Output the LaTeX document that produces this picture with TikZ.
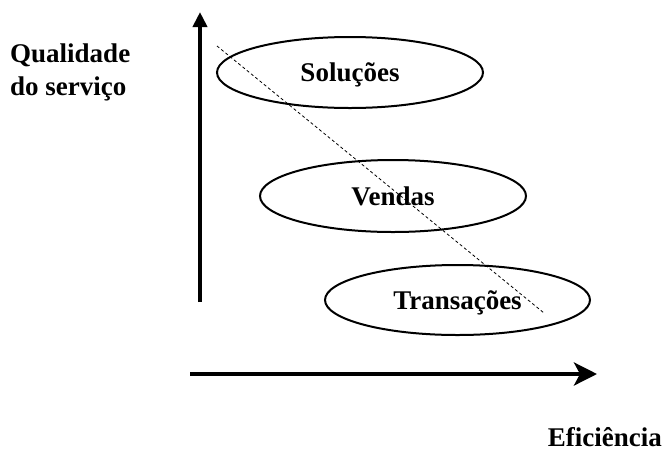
\documentclass[tikz,border=0pt]{standalone}
\usepackage{fontspec}
\setmainfont{Liberation Serif}
\usetikzlibrary{arrows.meta,shapes.geometric}
\begin{document}
\begin{tikzpicture}[x=1pt,y=-1pt,
  lbl/.style={font=\fontsize{27}{33}\selectfont\bfseries, inner sep=0pt},
  level/.style={ellipse, draw, line width=2pt, inner sep=0pt,
    minimum width=266pt, minimum height=71pt,
    text height=18pt, text depth=0pt,
    font=\fontsize{27}{33}\selectfont\bfseries},
  axis/.style={line width=4pt},
  trend/.style={line width=0.8pt, dash pattern=on 3pt off 2.5pt}]
  \useasboundingbox (0,0) rectangle (665,451);

  % axes
  \coordinate (yo) at (200,302);
  \coordinate (yt) at (200,12);
  \coordinate (xo) at (190,374);
  \coordinate (xt) at (597,374);
  \draw[axis, -{Triangle[width=14pt,length=15pt]}] (yo) -- (yt);
  \draw[axis, -{Stealth[width=23pt,length=23pt,inset=6pt]}] (xo) -- (xt);

  % axis captions
  \node[lbl, anchor=north west, align=left] (qual) at (10,43.6) {Qualidade\\do serviço};
  \node[lbl, anchor=base east] (efic) at (662,446.5) {Eficiência};

  % service levels
  \node[level] (sol) at (350,72.5) {Soluções};
  \node[level, minimum height=72pt] (ven) at (393,196) {Vendas};
  \node[level, minimum width=265pt, minimum height=70pt] (tra) at (457.5,300) {Transações};

  % trade-off line
  \coordinate (ta) at (217,46);
  \coordinate (tb) at (544,313);
  \draw[trend] (ta) -- (tb);
\end{tikzpicture}
\end{document}
